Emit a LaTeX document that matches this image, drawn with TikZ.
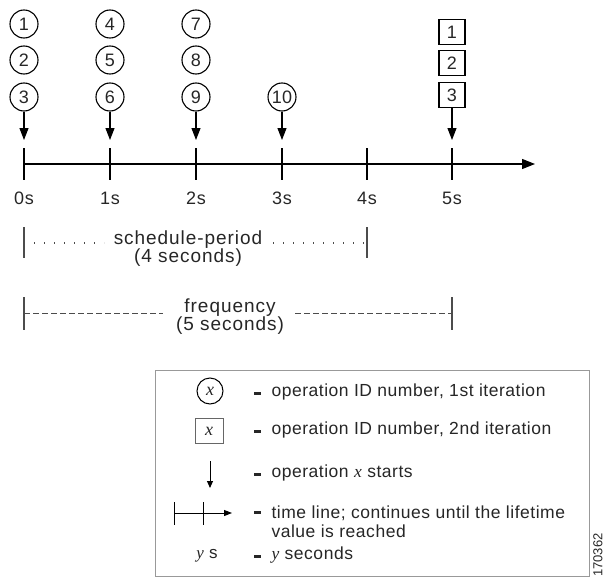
\documentclass[tikz,border=0pt]{standalone}
\usepackage{fontspec}
\setmainfont{Liberation Sans}
\newfontfamily\lserif{Liberation Serif}
\usetikzlibrary{arrows.meta}
\begin{document}
\begin{tikzpicture}[x=1pt,y=-1pt,
  every node/.style={font=\fontsize{17}{18}\selectfont, text=black!85},
  opcirc/.style={circle,draw,line width=1.1pt,minimum size=28pt,inner sep=0pt,font=\fontsize{18}{18}\selectfont},
  opsq/.style={rectangle,draw,line width=1.1pt,minimum width=26pt,minimum height=25pt,inner sep=0pt,font=\fontsize{18}{18}\selectfont},
  startarrow/.style={line width=1.1pt,-{Triangle[length=12pt,width=9pt]}},
  tickline/.style={line width=1.1pt},
  axisline/.style={line width=1.1pt,-{Triangle[length=13pt,width=10pt]}},
  dotline/.style={line width=1.2pt,black!70,dash pattern=on 1.2pt off 8.8pt},
  dashline/.style={line width=1pt,black!70,dash pattern=on 6pt off 3pt},
  barline/.style={line width=1.3pt,black!70},
  spantext/.style={align=center,font=\fontsize{19}{18}\selectfont\addfontfeature{LetterSpace=5}},
  ticklabel/.style={font=\fontsize{18}{18}\selectfont\addfontfeature{LetterSpace=3}},
  legendbox/.style={draw=black!40,line width=1pt},
  legtext/.style={anchor=west,align=left,font=\fontsize{17.5}{19}\selectfont\addfontfeature{LetterSpace=3}},
  legdash/.style={fill=black!85,minimum width=7pt,minimum height=3pt,inner sep=0pt},
  iconcirc/.style={circle,draw,line width=1pt,minimum size=26pt,inner sep=0pt,font=\fontsize{18}{18}\selectfont\lserif\itshape},
  iconsq/.style={rectangle,draw=black!60,line width=1pt,minimum width=28pt,minimum height=25pt,inner sep=0pt,font=\fontsize{18}{18}\selectfont\lserif\itshape}
]
\useasboundingbox (0,0) rectangle (605,578);

% first-iteration circles
\node[opcirc] (c1) at (24,24) {1};
\node[opcirc] (c2) at (24,60) {2};
\node[opcirc] (c3) at (24,97) {3};
\node[opcirc] (c4) at (110,24) {4};
\node[opcirc] (c5) at (110,60) {5};
\node[opcirc] (c6) at (110,97) {6};
\node[opcirc] (c7) at (196,24) {7};
\node[opcirc] (c8) at (196,60) {8};
\node[opcirc] (c9) at (196,97) {9};
\node[opcirc] (c10) at (282,97) {10};
% second-iteration squares
\node[opsq] (s1) at (452,32) {1};
\node[opsq] (s2) at (452,63) {2};
\node[opsq] (s3) at (452,95) {3};

% arrow ends
\coordinate (a0) at (24,140);
\coordinate (a1) at (110,140);
\coordinate (a2) at (196,140);
\coordinate (a3) at (282,140);
\coordinate (a5) at (452,140);
\draw[startarrow] (c3) -- (a0);
\draw[startarrow] (c6) -- (a1);
\draw[startarrow] (c9) -- (a2);
\draw[startarrow] (c10) -- (a3);
\draw[startarrow] (s3) -- (a5);

% timeline
\coordinate (t0) at (24,164);
\coordinate (tend) at (535,164);
\draw[axisline] (t0) -- (tend);
\foreach \x/\n in {24/0,110/1,196/2,282/3,367/4,452/5}{
  \coordinate (tt\n) at (\x,148);
  \coordinate (tb\n) at (\x,180);
  \draw[tickline] (tt\n) -- (tb\n);
  \node[ticklabel] (l\n) at (\x,198) {\n s};
}

% schedule-period
\coordinate (sp0t) at (24,227); \coordinate (sp0b) at (24,258);
\coordinate (sp1t) at (367,227); \coordinate (sp1b) at (367,258);
\draw[barline] (sp0t) -- (sp0b);
\draw[barline] (sp1t) -- (sp1b);
\coordinate (spa) at (24,243); \coordinate (spb) at (104,243);
\coordinate (spc) at (273,243); \coordinate (spd) at (367,243);
\draw[dotline] (spa) -- (spb);
\draw[dotline] (spc) -- (spd);
\node[spantext] (sp) at (188,249) {schedule-period\\(4 seconds)};

% frequency
\coordinate (f0t) at (24,297); \coordinate (f0b) at (24,330);
\coordinate (f1t) at (452,297); \coordinate (f1b) at (452,330);
\draw[barline] (f0t) -- (f0b);
\draw[barline] (f1t) -- (f1b);
\coordinate (fa) at (24,313); \coordinate (fb) at (163,313);
\coordinate (fc) at (295,313); \coordinate (fd) at (452,313);
\draw[dashline] (fa) -- (fb);
\draw[dashline] (fc) -- (fd);
\node[spantext] (fq) at (230,317) {frequency\\(5 seconds)};

% legend
\coordinate (lb1) at (155,370); \coordinate (lb2) at (589,576);
\draw[legendbox] (lb1) rectangle (lb2);
\node[iconcirc] (ic) at (210,391) {x};
\node[iconsq] (is) at (209,431) {x};
\coordinate (ia1) at (210,461); \coordinate (ia2) at (210,488);
\draw[line width=1pt,-{Triangle[length=7pt,width=6pt]}] (ia1) -- (ia2);
\coordinate (il1) at (174,513); \coordinate (il2) at (232,513);
\draw[line width=1pt,-{Triangle[length=8pt,width=6pt]}] (il1) -- (il2);
\coordinate (ik1t) at (174,502); \coordinate (ik1b) at (174,525);
\coordinate (ik2t) at (203,502); \coordinate (ik2b) at (203,525);
\draw[line width=1pt] (ik1t) -- (ik1b);
\draw[line width=1pt] (ik2t) -- (ik2b);
\node[font=\fontsize{17}{18}\selectfont\addfontfeature{LetterSpace=3}] (iy) at (207,556) {{\lserif\itshape y} s};

\node[legdash] (d1) at (257,393) {};
\node[legdash] (d2) at (257,431) {};
\node[legdash] (d3) at (257,474) {};
\node[legdash] (d4) at (257,512) {};
\node[legdash] (d5) at (257,556) {};

\node[legtext] (t1) at (268,392) {operation ID number, 1st iteration};
\node[legtext] (t2) at (268,430) {operation ID number, 2nd iteration};
\node[legtext] (t3) at (268,473) {operation {\lserif\itshape x} starts};
\node[legtext,anchor=north west] (t4) at (268,502) {time line; continues until the lifetime\\value is reached};
\node[legtext] (t5) at (268,555) {{\lserif\itshape y} seconds};

\node[rotate=90,font=\fontsize{13}{13}\selectfont] (fig) at (598,555) {170362};
\end{tikzpicture}
\end{document}
